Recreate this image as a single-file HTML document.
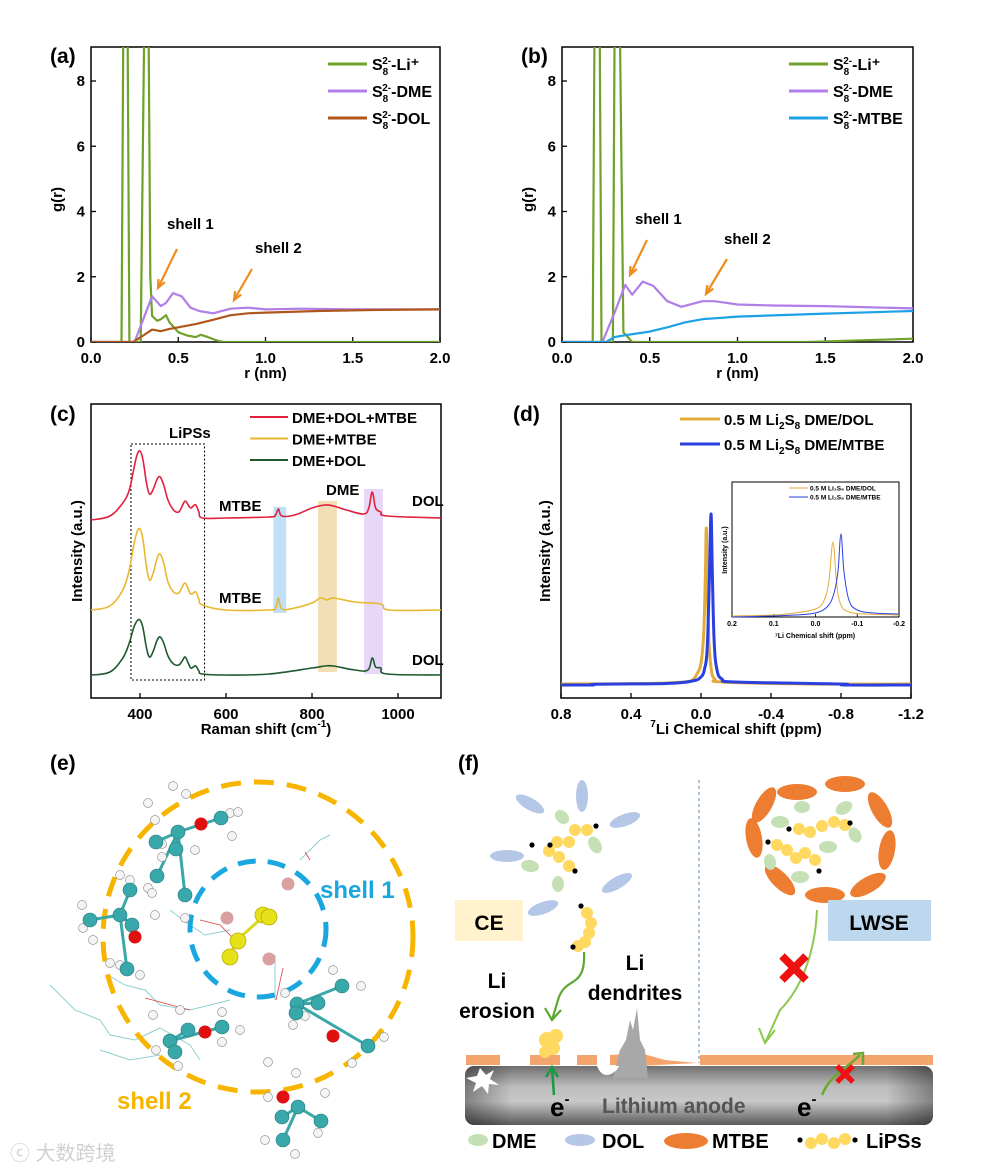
<!DOCTYPE html>
<html><head><meta charset="utf-8">
<style>
html,body{margin:0;padding:0;background:#fff;}
svg{display:block;font-family:"Liberation Sans",Arial,sans-serif;}
</style></head>
<body>
<svg id="fig" width="983" height="1169" viewBox="0 0 983 1169" xmlns="http://www.w3.org/2000/svg">
<defs>
<clipPath id="clipA"><rect x="91" y="47" width="349" height="295"/></clipPath>
<clipPath id="clipB"><rect x="562" y="47" width="351" height="295"/></clipPath>
<linearGradient id="anodeG" x1="0" y1="0" x2="0" y2="1">
<stop offset="0" stop-color="#6f6f6f"/><stop offset="0.35" stop-color="#bdbdbd"/><stop offset="0.6" stop-color="#c8c8c8"/><stop offset="1" stop-color="#5a5a5a"/></linearGradient>
<linearGradient id="anodeH" x1="0" y1="0" x2="1" y2="0">
<stop offset="0" stop-color="#000" stop-opacity="0.35"/><stop offset="0.1" stop-color="#000" stop-opacity="0"/><stop offset="0.9" stop-color="#000" stop-opacity="0"/><stop offset="1" stop-color="#000" stop-opacity="0.35"/></linearGradient>
</defs>
<g id="panelA"></g>
<g id="panelB"></g>
<g id="panelC"></g>
<g id="panelD"></g>
<g id="panelE"></g>
<g id="panelF"></g>
<text x="10" y="1160" font-size="20" fill="#d0d0d0" font-family="'Liberation Sans','Noto Sans CJK SC',sans-serif">ⓒ 大数跨境</text>
</svg>
<script>
// ---------- Panel (a) data ----------
const aLi = [[0,0],[0.175,0],[0.185,9.6],[0.21,9.6],[0.22,0],[0.285,0],[0.305,9.6],[0.33,9.6],[0.34,2],[0.35,0.8],[0.38,0.65],[0.4,0.7],[0.43,0.82],[0.45,0.6],[0.5,0.3],[0.55,0.2],[0.6,0.15],[0.63,0.22],[0.67,0.15],[0.72,0.05],[0.76,0],[2,0]];
const aDME = [[0,0],[0.25,0],[0.3,0.7],[0.35,1.4],[0.4,1.1],[0.43,1.2],[0.47,1.5],[0.52,1.4],[0.57,1.05],[0.62,0.95],[0.7,0.88],[0.8,1.02],[0.9,1.05],[1.0,1.0],[1.2,1.02],[1.5,1.0],[2,1.0]];
const aDOL = [[0,0],[0.24,0],[0.3,0.2],[0.35,0.38],[0.4,0.33],[0.45,0.4],[0.5,0.45],[0.6,0.55],[0.7,0.68],[0.8,0.82],[0.9,0.88],[1.0,0.9],[1.3,0.95],[1.6,0.98],[2,1.0]];
// ---------- Panel (b) data ----------
const bLi = [[0,0],[0.175,0],[0.185,9.6],[0.215,9.6],[0.225,0],[0.29,0],[0.3,9.6],[0.33,9.6],[0.35,0.3],[0.4,0],[1.4,0],[2,0.1]];
const bDME = [[0,0],[0.23,0],[0.3,0.9],[0.36,1.75],[0.4,1.45],[0.46,1.85],[0.52,1.72],[0.6,1.25],[0.68,1.08],[0.8,1.25],[0.87,1.25],[1.0,1.15],[1.2,1.12],[1.5,1.1],[2,1.03]];
const bMTBE = [[0,0],[0.25,0],[0.3,0.15],[0.35,0.2],[0.5,0.32],[0.6,0.45],[0.7,0.6],[0.8,0.7],[1.0,0.78],[1.5,0.87],[2,0.95]];
const gTicksY = [0,2,4,6,8];
const gTicksX = [0,0.5,1.0,1.5,2.0];
const gTickLabX = ["0.0","0.5","1.0","1.5","2.0"];
// ---------- Panel (c) data (a.u.) ----------
const cRed = [[286,178],[330,182],[360,195],[375,208],[385,228],[393,243],[400,247],[407,238],[415,215],[422,204],[430,208],[440,219],[447,221],[455,213],[465,198],[478,188],[490,186],[498,192],[505,197],[512,193],[518,190],[524,192],[530,193],[537,186],[545,180],[600,180],[700,181],[715,183],[722,189],[730,182],[760,183],[800,190],[830,193],[850,192],[880,188],[920,184],[932,190],[940,206],[948,190],[960,186],[975,182],[1100,180]];
const cYel = [[286,88],[330,92],[360,108],[375,128],[385,152],[393,166],[400,169],[407,158],[415,131],[422,118],[430,124],[440,140],[447,144],[455,135],[465,116],[478,106],[490,105],[498,111],[505,115],[512,109],[518,104],[524,105],[530,106],[537,99],[545,93],[600,88],[700,88],[715,90],[722,100],[730,89],[760,90],[800,95],[820,100],[835,98],[850,100],[900,96],[960,94],[980,88],[1100,88]];
const cGrn = [[286,23],[330,26],[360,40],[375,55],[385,70],[393,77],[400,78],[407,70],[415,50],[422,41],[430,46],[440,58],[447,61],[455,55],[465,42],[478,34],[490,33],[498,37],[505,41],[512,35],[518,30],[524,31],[530,32],[537,27],[545,24],[600,23],[700,24],[800,30],[830,32],[850,32],[900,28],[930,28],[940,40],[948,31],[960,30],[975,24],[1100,23]];
const cTicks = [400,600,800,1000];
// ---------- Panel (d) data ----------
const dYel = [[0.8,1],[0.3,1.5],[0.1,3],[0.05,5],[0.02,12],[0.0,22],[-0.015,50],[-0.025,110],[-0.03,157],[-0.035,110],[-0.045,45],[-0.06,14],[-0.08,6],[-0.12,3],[-0.6,1],[-1.2,1]];
const dBlu = [[0.8,0],[0.62,0],[0.6,0.8],[0.2,1.5],[0.05,4],[0.0,8],[-0.02,16],[-0.035,35],[-0.047,100],[-0.057,171],[-0.065,110],[-0.075,45],[-0.09,16],[-0.12,6],[-0.2,3],[-0.8,1],[-0.82,0],[-1.2,0]];
const dTicks = [0.8,0.4,0.0,-0.4,-0.8,-1.2];
const dTickLab = ["0.8","0.4","0.0","-0.4","-0.8","-1.2"];
const iYel = [[0.2,0],[0.1,1],[0.05,3],[0.0,7],[-0.02,15],[-0.032,35],[-0.042,74],[-0.05,35],[-0.06,12],[-0.08,4],[-0.12,2],[-0.2,1]];
const iBlu = [[0.2,-1],[0.1,0],[0.05,1],[0.0,3],[-0.03,10],[-0.045,24],[-0.054,45],[-0.061,82],[-0.068,45],[-0.08,16],[-0.1,6],[-0.14,3],[-0.2,2]];
const iTicks = [0.2,0.1,0.0,-0.1,-0.2];
const iTickLab = ["0.2","0.1","0.0","-0.1","-0.2"];

const NS="http://www.w3.org/2000/svg";
function mk(parent,tag,attrs,text){const e=document.createElementNS(NS,tag);for(const k in attrs)e.setAttribute(k,attrs[k]);if(text!==undefined)e.textContent=text;parent.appendChild(e);return e;}
function lin(d0,d1,r0,r1){return v=>r0+(v-d0)*(r1-r0)/(d1-d0);}
function pathD(pts,sx,sy){return pts.map((p,i)=>(i?'L':'M')+sx(p[0]).toFixed(1)+','+sy(p[1]).toFixed(1)).join(' ');}
function smoothD(pts,sx,sy){
  const P=pts.map(p=>[sx(p[0]),sy(p[1])]);
  let d='M'+P[0][0].toFixed(1)+','+P[0][1].toFixed(1);
  for(let i=0;i<P.length-1;i++){
    const p0=P[Math.max(0,i-1)],p1=P[i],p2=P[i+1],p3=P[Math.min(P.length-1,i+2)];
    const t=0.18;
    const c1=[p1[0]+(p2[0]-p0[0])*t,p1[1]+(p2[1]-p0[1])*t];
    const c2=[p2[0]-(p3[0]-p1[0])*t,p2[1]-(p3[1]-p1[1])*t];
    d+=` C${c1[0].toFixed(1)},${c1[1].toFixed(1)} ${c2[0].toFixed(1)},${c2[1].toFixed(1)} ${p2[0].toFixed(1)},${p2[1].toFixed(1)}`;
  }
  return d;
}

function rdf(gid,x0,x1,y0,yTop,clip,series,colors,names,legendX,label,arrows,legTexts){
  const g=document.getElementById(gid);
  const sx=lin(0,2,x0,x1), sy=lin(0,8,y0,81);
  const box=mk(g,'rect',{x:x0,y:yTop,width:x1-x0,height:y0-yTop,fill:'none',stroke:'#000','stroke-width':1.5});
  
  
  gTicksY.forEach(t=>{
    const tk=mk(g,'line',{x1:x0,x2:x0+5,y1:sy(t),y2:sy(t),stroke:'#000','stroke-width':1.3});
    
    
    const tl=mk(g,'text',{x:x0-6,y:sy(t)+5,'text-anchor':'end','font-size':15,'font-weight':'bold'},String(t));
    
    
  });
  gTicksX.forEach((t,i)=>{
    const tk=mk(g,'line',{x1:sx(t),x2:sx(t),y1:y0,y2:y0-5,stroke:'#000','stroke-width':1.3});
    
    
    const tl=mk(g,'text',{x:sx(t),y:y0+21,'text-anchor':'middle','font-size':15,'font-weight':'bold'},gTickLabX[i]);
    
    
  });
  const xt=mk(g,'text',{x:(x0+x1)/2,y:y0+36,'text-anchor':'middle','font-size':15,'font-weight':'bold'},'r (nm)');
  
  
  const yt=mk(g,'text',{x:0,y:0,transform:`translate(${x0-29},${(y0+yTop)/2+5}) rotate(-90)`,'text-anchor':'middle','font-size':15,'font-weight':'bold'},'g(r)');
  
  
  const pl=mk(g,'text',{x:x0-41,y:63,'font-size':21,'font-weight':'bold'},label);
  
  
  const cg=mk(g,'g',{'clip-path':`url(#${clip})`});
  series.forEach((s,i)=>{
    const p=mk(cg,'path',{d:pathD(s,sx,sy),fill:'none',stroke:colors[i],'stroke-width':2.2,'stroke-linejoin':'round'});
    
    
  });
  series.forEach((s,i)=>{
    const y=64+i*27;
    const l=mk(g,'line',{x1:legendX,x2:legendX+39,y1:y,y2:y,stroke:colors[i],'stroke-width':3});
    
    
    const t=mk(g,'text',{x:legendX+44,y:y+6,'font-size':16,'font-weight':'bold'});
    
    
    t.innerHTML=`S<tspan font-size="10" dy="5">8</tspan><tspan font-size="10" dx="-6" dy="-11">2-</tspan><tspan dy="6">${legTexts[i]}</tspan>`;
  });
  arrows.forEach(a=>{
    const t=mk(g,'text',{x:a.tx,y:a.ty,'font-size':15,'font-weight':'bold'},a.t);
    
    
    const l=mk(g,'line',{x1:a.x1,y1:a.y1,x2:a.x2,y2:a.y2,stroke:'#f08c1e','stroke-width':2.2});
    
    
    const ang=Math.atan2(a.y2-a.y1,a.x2-a.x1);const h=9;
    const p1=[a.x2-h*Math.cos(ang-0.4),a.y2-h*Math.sin(ang-0.4)],p2=[a.x2-h*Math.cos(ang+0.4),a.y2-h*Math.sin(ang+0.4)];
    const hd=mk(g,'polyline',{points:`${p1} ${a.x2},${a.y2} ${p2}`,fill:'none',stroke:'#f08c1e','stroke-width':2.2});
    
    
  });
}
rdf('panelA',91,440,342,47,'clipA',[aLi,aDME,aDOL],['#6ea22a','#b07ee6','#b0561c'],['series-li','series-dme','series-dol'],328,'(a)',
 [{t:'shell 1',tx:167,ty:229,x1:177,y1:249,x2:158,y2:288},{t:'shell 2',tx:255,ty:253,x1:252,y1:269,x2:234,y2:300}],['-Li⁺','-DME','-DOL']);
rdf('panelB',562,913,342,47,'clipB',[bLi,bDME,bMTBE],['#6ea22a','#b07ee6','#1ea0e6'],['series-li','series-dme','series-mtbe'],789,'(b)',
 [{t:'shell 1',tx:635,ty:224,x1:647,y1:240,x2:630,y2:275},{t:'shell 2',tx:724,ty:244,x1:727,y1:259,x2:706,y2:294}],['-Li⁺','-DME','-MTBE']);

// Panel (c)
(function(){
  const g=document.getElementById('panelC');
  const x0=91,x1=441,yT=404,yB=698;
  const sx=lin(286,1100,x0,x1), sy=v=>yB-v;
  const bands=[[710,740,507,613,'#bfe0f7','mtbe-band'],[814,858,501,672,'#f3dfb6','dme-band'],[921,965,489,674,'#e8d8f7','dol-band']];
  bands.forEach(b=>{const r=mk(g,'rect',{x:sx(b[0]),y:b[2],width:sx(b[1])-sx(b[0]),height:b[3]-b[2],fill:b[4]});
    
    });
  const lb=mk(g,'rect',{x:sx(379),y:444,width:sx(550)-sx(379),height:236,fill:'none',stroke:'#000','stroke-width':1,'stroke-dasharray':'2,2'});
  
  
  const box=mk(g,'rect',{x:x0,y:yT,width:x1-x0,height:yB-yT,fill:'none',stroke:'#000','stroke-width':1.5});
  
  
  cTicks.forEach(t=>{
    const tk=mk(g,'line',{x1:sx(t),x2:sx(t),y1:yB,y2:yB-5,stroke:'#000','stroke-width':1.3});
    
    
    const tl=mk(g,'text',{x:sx(t),y:yB+21,'text-anchor':'middle','font-size':15,'font-weight':'bold'},String(t));
    
    
  });
  const xt=mk(g,'text',{x:266,y:734,'text-anchor':'middle','font-size':15,'font-weight':'bold'});
  xt.innerHTML='Raman shift (cm<tspan font-size="10" dy="-7">-1</tspan><tspan dy="7">)</tspan>';
  
  
  const yt=mk(g,'text',{transform:'translate(82,551) rotate(-90)','text-anchor':'middle','font-size':15,'font-weight':'bold'},'Intensity (a.u.)');
  
  
  const pl=mk(g,'text',{x:50,y:421,'font-size':21,'font-weight':'bold'},'(c)');
  
  
  const ser=[[cRed,'#e0203c','series-dme-dol-mtbe','DME+DOL+MTBE'],[cYel,'#e8b830','series-dme-mtbe','DME+MTBE'],[cGrn,'#1e5a2e','series-dme-dol','DME+DOL']];
  ser.forEach((s,i)=>{
    const p=mk(g,'path',{d:smoothD(s[0],sx,sy),fill:'none',stroke:s[1],'stroke-width':1.6,'stroke-linejoin':'round'});
    
    
    const y=417+i*21.5;
    const l=mk(g,'line',{x1:250,x2:288,y1:y,y2:y,stroke:s[1],'stroke-width':2});
    
    
    const t=mk(g,'text',{x:292,y:y+6,'font-size':15,'font-weight':'bold'},s[3]);
    
    
  });
  [['LiPSs',169,438,'label-lipss'],['MTBE',219,511,'label-mtbe-top'],['MTBE',219,603,'label-mtbe-mid'],['DME',326,495,'label-dme'],['DOL',412,506,'label-dol-top'],['DOL',412,665,'label-dol-bottom']].forEach(a=>{
    const t=mk(g,'text',{x:a[1],y:a[2],'font-size':15,'font-weight':'bold'},a[0]);
    
    
  });
})();

// Panel (d)
(function(){
  const g=document.getElementById('panelD');
  const x0=561,x1=911,yT=404,yB=698;
  const sx=lin(0.8,-1.2,x0,x1), sy=v=>685-v;
  const box=mk(g,'rect',{x:x0,y:yT,width:x1-x0,height:yB-yT,fill:'none',stroke:'#000','stroke-width':1.5});
  
  
  dTicks.forEach((t,i)=>{
    const tk=mk(g,'line',{x1:sx(t),x2:sx(t),y1:yB,y2:yB-5,stroke:'#000','stroke-width':1.3});
    
    
    const tl=mk(g,'text',{x:sx(t),y:yB+21,'text-anchor':'middle','font-size':15,'font-weight':'bold'},dTickLab[i]);
    
    
  });
  const xt=mk(g,'text',{x:736,y:734,'text-anchor':'middle','font-size':15,'font-weight':'bold'});
  xt.innerHTML='<tspan font-size="10" dy="-7">7</tspan><tspan dy="7">Li Chemical shift (ppm)</tspan>';
  
  
  const yt=mk(g,'text',{transform:'translate(550,551) rotate(-90)','text-anchor':'middle','font-size':15,'font-weight':'bold'},'Intensity (a.u.)');
  
  
  const pl=mk(g,'text',{x:513,y:421,'font-size':21,'font-weight':'bold'},'(d)');
  
  
  const ser=[[dYel,'#e3ac3a','series-dme-dol','DME/DOL'],[dBlu,'#2a3fe0','series-dme-mtbe','DME/MTBE']];
  ser.forEach((s,i)=>{
    const p=mk(g,'path',{d:smoothD(s[0],sx,sy),fill:'none',stroke:s[1],'stroke-width':3,'stroke-linejoin':'round'});
    
    
    const y=419+i*25;
    const l=mk(g,'line',{x1:680,x2:720,y1:y,y2:y,stroke:s[1],'stroke-width':3});
    
    
    const t=mk(g,'text',{x:724,y:y+6,'font-size':15,'font-weight':'bold'});
    t.innerHTML=`0.5 M Li<tspan font-size="10" dy="4">2</tspan><tspan dy="-4">S</tspan><tspan font-size="10" dy="4">8</tspan><tspan dy="-4"> ${s[3]}</tspan>`;
    
    
  });
  const ig=mk(g,'g',{});
  
  
  const ix0=732,ix1=899,iyT=482,iyB=617;
  const isx=lin(0.2,-0.2,ix0,ix1), isy=v=>616-v;
  const ib=mk(ig,'rect',{x:ix0,y:iyT,width:ix1-ix0,height:iyB-iyT,fill:'#fff',stroke:'#000','stroke-width':1});
  
  
  iTicks.forEach((t,i)=>{
    const tk=mk(ig,'line',{x1:isx(t),x2:isx(t),y1:iyB,y2:iyB-3,stroke:'#000','stroke-width':0.8});
    
    
    const tl=mk(ig,'text',{x:isx(t),y:iyB+9,'text-anchor':'middle','font-size':7,'font-weight':'bold'},iTickLab[i]);
    
    
  });
  const ixt=mk(ig,'text',{x:815,y:638,'text-anchor':'middle','font-size':7,'font-weight':'bold'},'⁷Li Chemical shift (ppm)');
  
  
  const iyt=mk(ig,'text',{transform:'translate(727,550) rotate(-90)','text-anchor':'middle','font-size':7,'font-weight':'bold'},'Intensity (a.u.)');
  
  
  [[iYel,'#e3ac3a','DME/DOL'],[iBlu,'#2a3fe0','DME/MTBE']].forEach((s,i)=>{
    const p=mk(ig,'path',{d:smoothD(s[0],isx,isy),fill:'none',stroke:s[1],'stroke-width':1});
    
    
    const y=488+i*9;
    const l=mk(ig,'line',{x1:789,x2:808,y1:y,y2:y,stroke:s[1],'stroke-width':1});
    
    
    const t=mk(ig,'text',{x:810,y:y+2.5,'font-size':6.5,'font-weight':'bold'},'0.5 M Li₂S₈ '+s[2]);
    
    
  });
})();

// Panel (e) illustration
(function(){
  const g=document.getElementById('panelE');
  const pl=mk(g,'text',{x:50,y:770,'font-size':21,'font-weight':'bold'},'(e)');
  
  
  const wires=[[[50,985],[75,1010],[100,1020],[110,1035],[135,1040],[160,1028],[190,1045],[200,1060]],[[108,975],[125,985],[145,990],[160,1005],[190,1010],[210,1005],[230,1000]],[[170,910],[190,925],[205,935],[230,930]],[[300,860],[310,850],[320,840],[330,835]],[[275,955],[275,985],[275,1000]],[[100,1050],[130,1060],[160,1055]]];
  wires.forEach(w=>{const p=mk(g,'polyline',{points:w.map(q=>q.join(',')).join(' '),fill:'none',stroke:'#8fd0d0','stroke-width':1});
    
    });
  [[[200,920],[220,925],[235,940]],[[283,968],[276,1000]],[[145,998],[190,1010]],[[305,852],[310,860]]].forEach(w=>{
    const p=mk(g,'polyline',{points:w.map(q=>q.join(',')).join(' '),fill:'none',stroke:'#e04040','stroke-width':0.8});
    
    });
  const c2=mk(g,'circle',{cx:258,cy:937,r:155,fill:'none',stroke:'#f7b500','stroke-width':5,'stroke-dasharray':'20,13'});
  
  
  const c1=mk(g,'circle',{cx:258,cy:929,r:68,fill:'none',stroke:'#1aa7e0','stroke-width':5,'stroke-dasharray':'18,12'});
  
  
  const sp=mk(g,'polyline',{points:'264,916 236,941 230,957',fill:'none',stroke:'#d8d820','stroke-width':3});
  
  
  [[263,915],[269,917],[238,941],[230,957]].forEach(c=>{const s=mk(g,'circle',{cx:c[0],cy:c[1],r:8,fill:'#e6e21a',stroke:'#b8b000','stroke-width':0.8});
    
    });
  [[288,884],[227,918],[269,959]].forEach(c=>{const s=mk(g,'circle',{cx:c[0],cy:c[1],r:6.5,fill:'#d9a0a0'});
    
    });
  const mols=[
    {c:[[178,832],[156,842],[176,849],[157,876],[185,895],[221,818]],o:[201,824],h:[[173,786],[186,794],[148,803],[155,820],[162,844],[195,850],[162,857],[148,888],[185,918],[230,813],[232,836],[238,812]]},
    {c:[[120,915],[132,925],[90,920],[127,969],[130,890]],o:[135,937],h:[[82,905],[83,928],[93,940],[120,875],[130,880],[152,893],[155,915],[120,965],[140,975],[110,963]]},
    {c:[[297,1004],[318,1003],[342,986],[296,1013],[368,1046]],o:[333,1036],h:[[333,970],[361,986],[285,993],[305,1016],[293,1025],[384,1037],[352,1063]]},
    {c:[[170,1041],[188,1030],[222,1027],[175,1052]],o:[205,1032],h:[[156,1050],[178,1066],[222,1012],[240,1030],[222,1042],[180,1010],[153,1015]]},
    {c:[[298,1107],[282,1117],[283,1140],[321,1121]],o:[283,1097],h:[[268,1062],[268,1097],[296,1073],[325,1093],[318,1133],[265,1140],[295,1154]]}
  ];
  mols.forEach(m=>{
    m.c.forEach(c=>{const l=mk(g,'line',{x1:m.c[0][0],y1:m.c[0][1],x2:c[0],y2:c[1],stroke:'#3aa8a8','stroke-width':3});
      
      });
    m.h.forEach(h=>{const c=mk(g,'circle',{cx:h[0],cy:h[1],r:4.5,fill:'#f4f4f4',stroke:'#999','stroke-width':0.7});
      
      });
    m.c.forEach(c=>{const e=mk(g,'circle',{cx:c[0],cy:c[1],r:7,fill:'#38a8ab',stroke:'#20787a','stroke-width':0.6});
      
      });
    const o=mk(g,'circle',{cx:m.o[0],cy:m.o[1],r:6.5,fill:'#e01010'});
    
    
  });
  const t1=mk(g,'text',{x:320,y:898,'font-size':24,'font-weight':'bold',fill:'#1aa7e0'},'shell 1');
  
  
  const t2=mk(g,'text',{x:117,y:1109,'font-size':24,'font-weight':'bold',fill:'#f7b500'},'shell 2');
  
  
})();

// Panel (f) schematic
(function(){
  const g=document.getElementById('panelF');
  const pl=mk(g,'text',{x:458,y:770,'font-size':21,'font-weight':'bold'},'(f)');
  
  
  function ell(cx,cy,rx,ry,rot,fill,name){const e=mk(g,'ellipse',{cx,cy,rx,ry,fill,transform:`rotate(${rot} ${cx} ${cy})`});
    
    }
  function dot(cx,cy,name){const c=mk(g,'circle',{cx,cy,r:2.6,fill:'#000'});
    
    }
  function ps(cx,cy){const c=mk(g,'circle',{cx,cy,r:6,fill:'#ffd860'});
    
    }
  const dv=mk(g,'line',{x1:699,y1:780,x2:699,y2:1063,stroke:'#a8c4dc','stroke-width':2,'stroke-dasharray':'3,3'});
  
  
  [[530,804,16,6,30],[582,796,16,6,90],[625,820,16,6,-20],[507,856,17,6,0],[617,883,17,6,-30],[543,908,16,6,-20]].forEach(e=>ell(...e,'#b4c7e7','dol-molecule'));
  [[562,817,8,6,45],[595,845,9,6,60],[530,866,9,6,10],[558,884,8,6,90]].forEach(e=>ell(...e,'#c5e0b4','dme-molecule'));
  [[575,830],[587,830],[569,842],[557,842],[549,851],[559,857],[569,866],[587,913],[591,923],[589,933],[585,942],[578,946]].forEach(p=>ps(...p));
  [[596,826],[532,845],[550,845],[575,871],[581,906],[573,947]].forEach(p=>dot(...p,'lithium-dot'));
  const ce=mk(g,'rect',{x:455,y:900,width:68,height:41,fill:'#fff2cc'});
  
  
  const cet=mk(g,'text',{x:489,y:930,'text-anchor':'middle','font-size':21,'font-weight':'bold'},'CE');
  
  
  const ga=mk(g,'path',{d:'M584,952 C586,990 565,975 558,1000 L552,1020',fill:'none',stroke:'#5aa832','stroke-width':2.2});
  
  
  const gh=mk(g,'polyline',{points:'545,1008 552,1020 561,1010',fill:'none',stroke:'#5aa832','stroke-width':2.2});
  
  
  const ring=[[797,792,20,8,0],[845,784,20,8,0],[880,810,20,8,60],[887,850,20,8,100],[868,885,20,8,-30],[825,895,20,8,0],[780,880,20,8,45],[754,838,20,8,80],[764,805,20,8,-60]];
  ring.forEach(e=>ell(...e,'#ed7d31','mtbe-molecule'));
  [[802,807,8,6,0],[844,808,9,6,-30],[780,822,9,6,0],[855,835,8,6,60],[828,847,9,6,0],[770,862,8,6,80],[800,877,9,6,0]].forEach(e=>ell(...e,'#c5e0b4','dme-molecule'));
  [[799,829],[810,832],[822,826],[834,822],[845,825],[777,845],[787,850],[796,858],[805,853],[815,860]].forEach(p=>ps(...p));
  [[789,829],[850,823],[768,842],[819,871]].forEach(p=>dot(...p,'lithium-dot'));
  const lw=mk(g,'rect',{x:828,y:900,width:103,height:41,fill:'#bdd7ee'});
  
  
  const lwt=mk(g,'text',{x:879,y:930,'text-anchor':'middle','font-size':21,'font-weight':'bold'},'LWSE');
  
  
  const ga2=mk(g,'path',{d:'M817,910 C815,955 800,990 780,1010 L765,1043',fill:'none',stroke:'#8cc850','stroke-width':2});
  
  
  const gh2=mk(g,'polyline',{points:'759,1028 765,1043 775,1030',fill:'none',stroke:'#8cc850','stroke-width':2});
  
  
  function redX(cx,cy,s,name){const p=mk(g,'path',{d:`M${cx-s},${cy-s} L${cx+s},${cy+s} M${cx+s},${cy-s} L${cx-s},${cy+s}`,stroke:'#f01010','stroke-width':s*0.65,'stroke-linecap':'butt'});
    
    }
  redX(794,968,12,'blocked-mark');
  const an=mk(g,'rect',{x:465,y:1066,width:468,height:59,rx:9,fill:'url(#anodeG)'});
  
  
  const an2=mk(g,'rect',{x:465,y:1066,width:468,height:59,rx:9,fill:'url(#anodeH)'});
  
  
  [[466,1055,34],[530,1055,30],[577,1055,20],[700,1055,233]].forEach(r=>{const s=mk(g,'rect',{x:r[0],y:r[1],width:r[2],height:10,fill:'#f4a56e'});
    
    });
  const tp=mk(g,'polygon',{points:'610,1055 640,1053 665,1060 697,1063 640,1066 610,1065',fill:'#f4a56e'});
  
  
  const den=mk(g,'polygon',{points:'613,1078 620,1050 626,1040 630,1020 633,1030 637,1008 640,1040 645,1050 648,1078',fill:'#a8a8a8'});
  
  
  const ero=mk(g,'path',{d:'M597,1066 q5,12 14,8 q6,-3 8,-8 z',fill:'#fff'});
  
  
  const star=mk(g,'polygon',{points:'480,1068 486,1075 494,1070 490,1079 499,1085 489,1084 488,1094 482,1086 473,1092 476,1083 466,1078 477,1076',fill:'#fff'});
  
  
  [[547,1040,8],[556,1036,7],[553,1048,7],[545,1052,6]].forEach(c=>{const e=mk(g,'circle',{cx:c[0],cy:c[1],r:c[2],fill:'#ffd860'});
    
    });
  const ea=mk(g,'path',{d:'M554,1095 L552,1068 M546,1077 L552,1067 L558,1077',fill:'none',stroke:'#1a9a40','stroke-width':2.5});
  
  
  const ea2=mk(g,'path',{d:'M822,1095 C830,1075 845,1070 860,1055 M853,1054 L863,1053 L863,1065',fill:'none',stroke:'#6aa832','stroke-width':2.5});
  
  
  redX(845,1074,8,'blocked-electron-mark');
  const lt=mk(g,'text',{x:602,y:1113,'font-size':21,'font-weight':'bold',fill:'#555'},'Lithium anode');
  
  
  [[550,'e-left'],[797,'e-right']].forEach(e=>{const t=mk(g,'text',{x:e[0],y:1116,'font-size':26,'font-weight':'bold'});
    t.innerHTML='e<tspan font-size="15" dy="-12">-</tspan>';
    
    });
  [['Li',497,988],['erosion',497,1018],['Li',635,970],['dendrites',635,1000]].forEach((a,i)=>{
    const t=mk(g,'text',{x:a[1],y:a[2],'text-anchor':'middle','font-size':21,'font-weight':'bold'},a[0]);
    
    });
  ell(478,1140,10,6,0,'#c5e0b4','legend-dme-swatch');
  ell(580,1140,15,6,0,'#b4c7e7','legend-dol-swatch');
  ell(686,1141,22,8,0,'#ed7d31','legend-mtbe-swatch');
  dot(800,1140,'legend-dot');[[811,1143],[822,1139],[834,1143],[845,1139]].forEach(p=>ps(...p));dot(855,1140,'legend-dot');
  [['DME',492],['DOL',602],['MTBE',712],['LiPSs',866]].forEach(a=>{const t=mk(g,'text',{x:a[1],y:1148,'font-size':20,'font-weight':'bold'},a[0]);
    
    });
})();
</script>
</body></html>
